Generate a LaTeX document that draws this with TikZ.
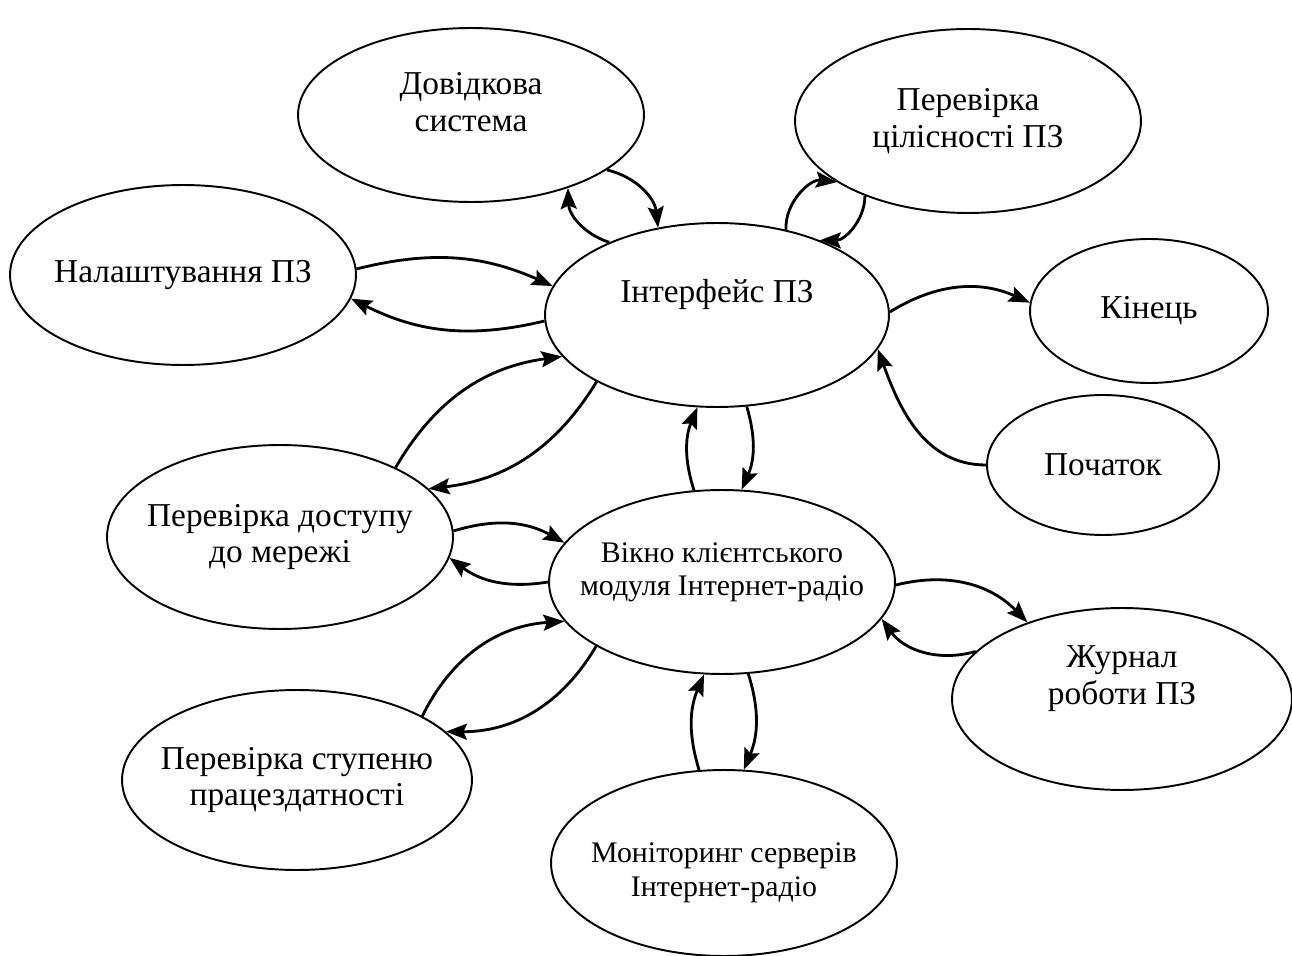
\documentclass[tikz,border=0pt]{standalone}
\usepackage{fontspec}
\setmainfont{Liberation Serif}
\usetikzlibrary{shapes.geometric,arrows.meta}
\tikzset{state/.style={ellipse, draw, line width=1.1pt, inner xsep=-1.2cm, inner ysep=-0.6cm, align=center, font=\fontsize{19}{21}\selectfont},
         small/.style={font=\fontsize{17}{19}\selectfont},
         link/.style={line width=1.6pt, -{Stealth[length=0.42cm,width=0.32cm,inset=0.07cm]}}}

\begin{document}
\begin{tikzpicture}[x=0.02cm,y=-0.02cm]
   \useasboundingbox (0,0) rectangle (1292,956);
   % states
   \node[state, minimum width=6.92cm,minimum height=3.48cm] (dovid)   at ( 471,115) {Довідкова\\система\\[-12pt]\strut};
   \node[state, minimum width=6.92cm,minimum height=3.68cm] (cilis)   at ( 968,121) {Перевірка\\цілісності ПЗ};
   \node[state, minimum width=6.92cm,minimum height=3.6cm]  (nalasht) at ( 183,275) {Налаштування ПЗ};
   \node[state, minimum width=6.88cm,minimum height=3.68cm] (intf)    at ( 717,315) {Інтерфейс ПЗ\\\strut};
   \node[state, minimum width=4.76cm,minimum height=2.88cm] (kinec)   at (1149,311) {Кінець};
   \node[state, minimum width=4.64cm,minimum height=2.8cm]  (pochat)  at (1103,465) {Початок};
   \node[state, minimum width=6.92cm,minimum height=3.68cm] (dostup)  at ( 280,537) {Перевірка доступу\\до мережі};
   \node[state, small, minimum width=6.92cm,minimum height=3.68cm] (vikno) at (722,582) {Вікно клієнтського\\модуля Інтернет-радіо\\[-10pt]\strut};
   \node[state, minimum width=6.8cm, minimum height=3.64cm] (zhurnal) at (1122,699) {Журнал\\роботи ПЗ\\\strut};
   \node[state, minimum width=7.0cm, minimum height=3.6cm]  (stupin)  at ( 297,780) {Перевірка ступеню\\працездатності};
   \node[state, small, minimum width=6.92cm,minimum height=3.72cm] (monit) at (724,863) {\strut\\[-10pt]Моніторинг серверів\\Інтернет-радіо};
   % transitions
   \draw[link] (intf.146)    to[bend left=35] (dovid.323);
   \draw[link] (dovid.338)   to[bend left=35] (intf.124);
   \draw[link] (intf.51)     to[bend left=50] (cilis.205);
   \draw[link] (cilis.216)   to[bend left=45] (intf.36);
   \draw[link] (nalasht.2)   to[bend left=19] (intf.170);
   \draw[link] (intf.182)    to[bend left=20] (nalasht.352);
   \draw[link] (dostup.31)   to[bend left=26] (intf.195);
   \draw[link] (intf.209)    to[bend left=26] (dostup.18);
   \draw[link] (dostup.2)    to[bend left=23] (vikno.166);
   \draw[link] (vikno.180)   to[bend left=23] (dostup.353);
   \draw[link] (stupin.27)   to[bend left=30] (vikno.194);
   \draw[link] (vikno.207)   to[bend left=30] (stupin.18);
   \draw[link] (vikno.107)   to[bend left=20] (intf.258);
   \draw[link] (intf.288)    to[bend left=20] (vikno.78);
   \draw[link] (monit.105)   to[bend left=20] (vikno.259);
   \draw[link] (vikno.286)   to[bend left=20] (monit.78);
   \draw[link] (intf.1)      to[bend left=28] (kinec.176);
   \draw[link] (pochat.180)  to[out=180,in=-70] (intf.348);
   \draw[link] (vikno.359)   to[bend left=30] (zhurnal.141);
   \draw[link] (zhurnal.162) to[bend left=35] (vikno.347);
\end{tikzpicture}
\end{document}
